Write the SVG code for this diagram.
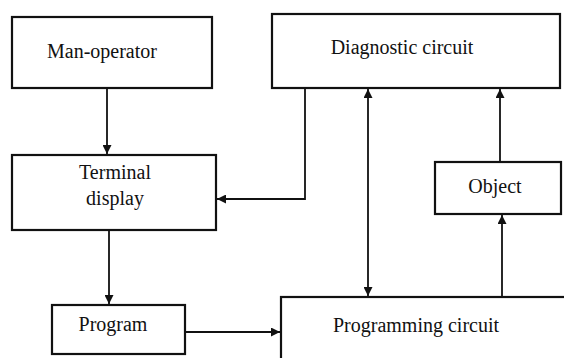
<svg xmlns="http://www.w3.org/2000/svg" width="564" height="358" viewBox="0 0 564 358">
<style>
.box{fill:#fff;stroke:#111;stroke-width:2.2}
.lbl{font-family:"Liberation Serif","Times New Roman",serif;font-size:20px;fill:#111;text-anchor:middle}
.con{fill:none;stroke:#111;stroke-width:1.8}
</style>
<defs>
<marker id="ah" viewBox="0 0 10 10" refX="10" refY="5" markerWidth="9" markerHeight="9" markerUnits="userSpaceOnUse" orient="auto-start-reverse">
<path d="M0,0 L10,5 L0,10 z" fill="#111"/>
</marker>
</defs>
<rect width="564" height="358" fill="#fff"/>
<g id="man-operator">
<rect class="box" x="12" y="17" width="200" height="71"/>
<text class="lbl" x="102" y="58">Man-operator</text>
</g>
<g id="diagnostic-circuit">
<rect class="box" x="272" y="14" width="288" height="74"/>
<text class="lbl" x="402" y="54">Diagnostic circuit</text>
</g>
<g id="terminal-display">
<rect class="box" x="12" y="155" width="204" height="75"/>
<text class="lbl" x="115" y="179">Terminal</text>
<text class="lbl" x="115" y="205">display</text>
</g>
<g id="object">
<rect class="box" x="435" y="162" width="126" height="52"/>
<text class="lbl" x="495" y="193">Object</text>
</g>
<g id="program">
<rect class="box" x="52" y="305" width="133" height="49"/>
<text class="lbl" x="113" y="331">Program</text>
</g>
<g id="programming-circuit">
<rect class="box" x="281" y="297" width="300" height="100"/>
<text class="lbl" x="416" y="332">Programming circuit</text>
</g>
<g id="connectors">
<line class="con" x1="107" y1="88" x2="107" y2="154" marker-end="url(#ah)"/>
<polyline class="con" points="305,88 305,199 217,199" marker-end="url(#ah)"/>
<line class="con" x1="368" y1="89" x2="368" y2="296" marker-start="url(#ah)" marker-end="url(#ah)"/>
<line class="con" x1="500" y1="162" x2="500" y2="89" marker-end="url(#ah)"/>
<line class="con" x1="502" y1="296" x2="502" y2="215" marker-end="url(#ah)"/>
<line class="con" x1="109" y1="230" x2="109" y2="304" marker-end="url(#ah)"/>
<line class="con" x1="185" y1="332" x2="280" y2="332" marker-end="url(#ah)"/>
</g>
</svg>
